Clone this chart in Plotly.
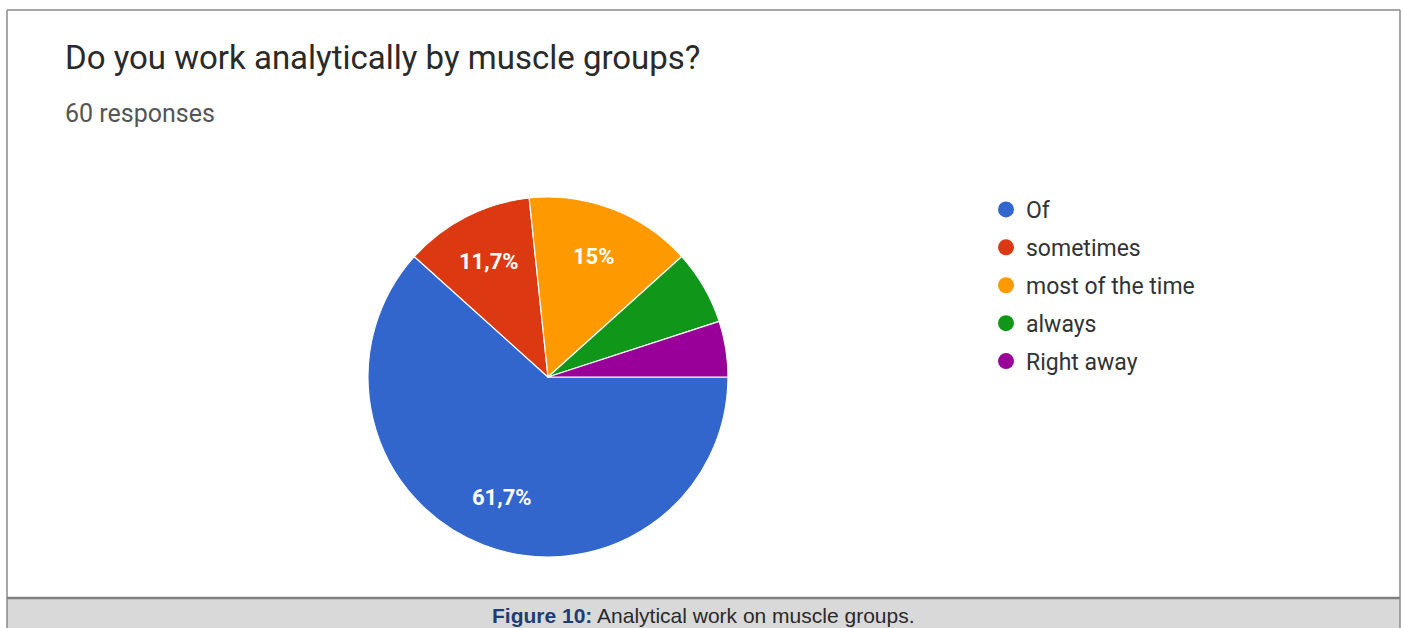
import math
import plotly.graph_objects as go

title_text = "Do you work analytically by muscle groups?"
subtitle_text = "60 responses"
categories = ["Of", "sometimes", "most of the time", "always", "Right away"]
counts = [37, 7, 9, 4, 3]
colors = ["#3366cc", "#dc3912", "#ff9900", "#109618", "#990099"]
caption_bold = "Figure 10:"
caption_rest = " Analytical work on muscle groups."

W, H = 1404, 628
total = sum(counts)


def pct_label(v):
    p = v / total * 100
    if p < 10:
        return ""
    s = f"{p:.1f}".replace(".", ",")
    if s.endswith(",0"):
        s = s[:-2]
    return s + "%"


fig = go.Figure()

# pie geometry (pixels)
cx, cy, r = 548, 377, 180
fig.add_trace(go.Pie(
    labels=categories,
    values=counts,
    sort=False,
    direction="clockwise",
    rotation=90,
    marker=dict(colors=colors, line=dict(color="white", width=1.2)),
    textinfo="none",
    hoverinfo="skip",
    showlegend=False,
    domain=dict(x=[(cx - r) / W, (cx + r) / W], y=[(H - cy - r) / H, (H - cy + r) / H]),
))

# percentage labels placed along each slice's mid-angle (Google-Forms style)
annotations = []
cum = 0
for v in counts:
    mid = (cum + v / 2) / total * 2 * math.pi
    cum += v
    txt = pct_label(v)
    if not txt:
        continue
    px = cx + 0.72 * r * math.cos(mid)
    py = cy + 0.72 * r * math.sin(mid)
    annotations.append(dict(
        text=f"<b>{txt}</b>", xref="paper", yref="paper", x=px / W, y=1 - py / H,
        xanchor="center", yanchor="middle", showarrow=False,
        font=dict(family="Roboto", size=22, color="white")))

# legend entries with circle symbols
for i, (c, col) in enumerate(zip(categories, colors)):
    fig.add_trace(go.Scatter(
        x=[None], y=[None], mode="markers", name=c,
        marker=dict(color=col, size=22, symbol="circle"),
        legendgroup=f"g{i}", showlegend=True, hoverinfo="skip",
    ))

shapes = [
    dict(type="line", xref="paper", yref="paper", x0=7 / W, x1=1400 / W, y0=1 - 10 / H, y1=1 - 10 / H,
         line=dict(color="#8a8a8a", width=1.5)),
    dict(type="line", xref="paper", yref="paper", x0=7 / W, x1=7 / W, y0=0, y1=1 - 10 / H,
         line=dict(color="#8a8a8a", width=1.5)),
    dict(type="line", xref="paper", yref="paper", x0=1400 / W, x1=1400 / W, y0=0, y1=1 - 10 / H,
         line=dict(color="#8a8a8a", width=1.5)),
    dict(type="rect", xref="paper", yref="paper", x0=7 / W, x1=1400 / W, y0=0, y1=1 - 598 / H,
         fillcolor="#d9d9d9", line=dict(width=0), layer="below"),
    dict(type="line", xref="paper", yref="paper", x0=7 / W, x1=1400 / W, y0=1 - 598 / H, y1=1 - 598 / H,
         line=dict(color="#808080", width=2.5)),
]

annotations += [
    dict(text=title_text, xref="paper", yref="paper", x=63 / W, y=1 - 58 / H, xanchor="left", yanchor="middle",
         showarrow=False, font=dict(family="Roboto", size=33, color="#2a2a2a")),
    dict(text=subtitle_text, xref="paper", yref="paper", x=63 / W, y=1 - 113 / H, xanchor="left", yanchor="middle",
         showarrow=False, font=dict(family="Roboto", size=25, color="#555555")),
    dict(text=f"<b><span style='color:#1f3d73'>{caption_bold}</span></b>{caption_rest}",
         xref="paper", yref="paper", x=703 / W, y=1 - 615 / H, xanchor="center", yanchor="middle",
         showarrow=False, font=dict(family="Liberation Sans", size=21, color="#2a2a2a")),
]

fig.update_layout(
    width=W, height=H,
    margin=dict(l=0, r=0, t=0, b=0),
    paper_bgcolor="white", plot_bgcolor="white",
    xaxis=dict(visible=False), yaxis=dict(visible=False),
    shapes=shapes, annotations=annotations,
    legend=dict(x=986 / W, y=1 - 188 / H, xanchor="left", yanchor="top",
                font=dict(family="Roboto", size=23, color="#333333"),
                tracegroupgap=5, bgcolor="rgba(0,0,0,0)", itemclick=False, itemdoubleclick=False),
    showlegend=True,
)

fig.write_html("out.html")
